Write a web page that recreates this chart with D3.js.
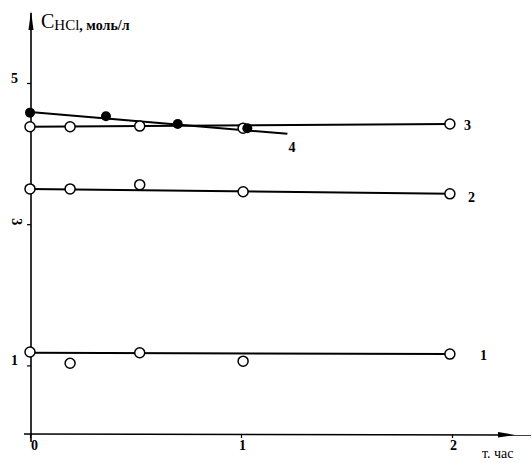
<!DOCTYPE html>
<html>
<head>
<meta charset="utf-8">
<script src="https://cdn.jsdelivr.net/npm/d3@7"></script>
<style>
	body { margin: 0; background: #fff; }
	svg { display: block; }
	text { font-family: 'Liberation Serif', 'DejaVu Serif', serif; fill: #000; }
</style>
</head>
<body>
<div id="chart"></div>
<script>
'use strict'

// time, hours (open circles: curves 1-3, filled: curve 4)
const timesOpen = [0, 0.19, 0.52, 1.01, 1.99]
const timesFilled = [0, 0.36, 0.70, 1.03]

// C(HCl), mol/l
const series1 = [1.19, 1.03, 1.18, 1.06, 1.16]
const series2 = [3.50, 3.50, 3.56, 3.46, 3.43]
const series3 = [4.38, 4.38, 4.39, 4.36, 4.42]
const series4 = [4.58, 4.53, 4.42, 4.36]

// fitted straight lines [time, value]
const fit1 = [[0, 1.18], [1.99, 1.16]]
const fit2 = [[0, 3.50], [1.99, 3.43]]
const fit3 = [[0, 4.38], [1.99, 4.42]]
const fit4 = [[0, 4.59], [1.22, 4.28]]

const curveLabels = ['1', '2', '3', '4']
const xTicks = [0, 1, 2]
const yTicks = [1, 3, 5]

const width = 532
const height = 463

const x = d3.scaleLinear().domain([0, 2]).range([30, 452])
const y = d3.scaleLinear().domain([0, 5]).range([436, 83])

const svg = d3.select('#chart').append('svg')
	.attr('width', width)
	.attr('height', height)

// axes lines with arrows
svg.append('line')
	.attr('x1', x(0) + 1).attr('y1', y(0) + 6)
	.attr('x2', x(0) + 1).attr('y2', 13)
	.attr('stroke', '#000').attr('stroke-width', 1.6)
svg.append('path')
	.attr('d', `M${x(0) + 1},11 L${x(0) - 1.5},30 L${x(0) + 3.5},30 Z`)
	.attr('fill', '#000')

svg.append('line')
	.attr('x1', x(0) - 6).attr('y1', y(0) - 2)
	.attr('x2', 531).attr('y2', y(0) - 1)
	.attr('stroke', '#000').attr('stroke-width', 1.6)
svg.append('path')
	.attr('d', `M515,${y(0) - 1} L498,${y(0) - 4} L498,${y(0) + 1.5} Z`)
	.attr('fill', '#000')

const yAxis = svg.append('g')
	.attr('transform', `translate(${x(0) + 1},0)`)
	.call(d3.axisLeft(y).tickValues(yTicks).tickSize(4).tickPadding(9).tickFormat(d3.format('d')))
yAxis.select('.domain').remove()
yAxis.selectAll('.tick line').attr('stroke-width', 1.2)
yAxis.selectAll('.tick text')
	.attr('dy', '-0.05em')
	.style('font-size', '14px')
	.style('font-weight', 'bold')
	.style('font-family', "'Liberation Serif', serif")
yAxis.selectAll('.tick text')
	.filter((d) => d === 3)
	.attr('transform', 'translate(-14,-3) rotate(90)')
	.attr('text-anchor', 'middle')
	.attr('x', 0)
	.attr('dy', '0.35em')

const xAxis = svg.append('g')
	.attr('transform', `translate(0,${y(0) - 2})`)
	.call(d3.axisBottom(x).tickValues(xTicks).tickSize(4).tickPadding(2).tickFormat(d3.format('d')))
xAxis.select('.domain').remove()
xAxis.selectAll('.tick line').attr('stroke-width', 1.2)
xAxis.selectAll('.tick text')
	.attr('dx', (d) => d === 0 ? 4 : 1)
	.style('font-size', '14px')
	.style('font-weight', 'bold')
	.style('font-family', "'Liberation Serif', serif")

// axis titles
const yTitle = svg.append('text')
	.attr('x', 41)
	.attr('y', 28)
yTitle.append('tspan')
	.style('font-size', '20px')
	.text('C')
yTitle.append('tspan')
	.attr('dy', 2)
	.style('font-size', '15px')
	.text('HCl')
yTitle.append('tspan')
	.style('font-size', '14px')
	.style('font-weight', 'bold')
	.text(', моль/л')

svg.append('text')
	.attr('x', 482)
	.attr('y', 458)
	.style('font-size', '14px')
	.text('т. час')

// fitted lines
const line = d3.line()
	.x((d) => x(d[0]))
	.y((d) => y(d[1]))

svg.append('g')
	.selectAll('path')
	.data([fit1, fit2, fit3, fit4])
	.enter()
	.append('path')
	.attr('d', line)
	.attr('fill', 'none')
	.attr('stroke', '#000')
	.attr('stroke-width', 2)

// open circles
const openSeries = [series1, series2, series3]
openSeries.forEach((values) => {
	svg.append('g')
		.selectAll('circle')
		.data(values)
		.enter()
		.append('circle')
		.attr('cx', (d, i) => x(timesOpen[i]))
		.attr('cy', (d) => y(d))
		.attr('r', 5)
		.attr('fill', '#fff')
		.attr('stroke', '#000')
		.attr('stroke-width', 1.5)
})

// filled circles
svg.append('g')
	.selectAll('circle')
	.data(series4)
	.enter()
	.append('circle')
	.attr('cx', (d, i) => x(timesFilled[i]))
	.attr('cy', (d) => y(d))
	.attr('r', 5)
	.attr('fill', '#000')

// curve numbers
const labelAnchors = [
	{t: fit1[1][0], v: fit1[1][1], dx: 30, dy: 6},
	{t: fit2[1][0], v: fit2[1][1], dx: 18, dy: 8},
	{t: fit3[1][0], v: fit3[1][1], dx: 14, dy: 6},
	{t: fit4[1][0], v: fit4[1][1], dx: 1, dy: 18}
]
svg.append('g')
	.selectAll('text')
	.data(curveLabels)
	.enter()
	.append('text')
	.attr('x', (d, i) => x(labelAnchors[i].t) + labelAnchors[i].dx)
	.attr('y', (d, i) => y(labelAnchors[i].v) + labelAnchors[i].dy)
	.style('font-size', '14px')
	.style('font-weight', 'bold')
	.text((d) => d)
</script>
</body>
</html>
